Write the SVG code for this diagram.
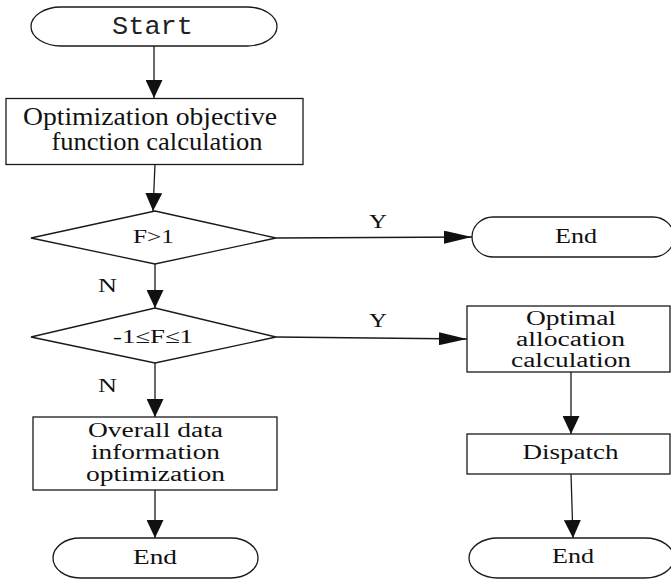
<svg xmlns="http://www.w3.org/2000/svg" width="671" height="579" viewBox="0 0 671 579">
  <style>
    .shape { fill: #ffffff; stroke: #1a1a1a; stroke-width: 1.3; }
    .wire { fill: none; stroke: #1a1a1a; stroke-width: 1.3; }
    .t { font-family: "Liberation Serif", "Times New Roman", serif; fill: #111111; text-anchor: middle; }
    .mono { font-family: "Liberation Mono", "Courier New", monospace; fill: #222222; text-anchor: middle; }
    .lbl { font-family: "Liberation Serif", "Times New Roman", serif; fill: #111111; text-anchor: middle; font-size: 19px; }
  </style>
  <defs>
    <marker id="headV" markerUnits="userSpaceOnUse" markerWidth="18" markerHeight="17" refX="18" refY="8.5" orient="auto">
      <path d="M0,0 L18,8.5 L0,17 Z" fill="#111111"/>
    </marker>
    <marker id="headH" markerUnits="userSpaceOnUse" markerWidth="28" markerHeight="13" refX="28" refY="6.5" orient="auto">
      <path d="M0,0 L28,6.5 L0,13 Z" fill="#111111"/>
    </marker>
  </defs>

  <!-- connectors -->
  <g id="connectors">
    <line class="wire" x1="154" y1="46" x2="154" y2="98" marker-end="url(#headV)"/>
    <line class="wire" x1="155" y1="164" x2="153" y2="211" marker-end="url(#headV)"/>
    <line class="wire" x1="276" y1="238" x2="472" y2="237" marker-end="url(#headH)"/>
    <line class="wire" x1="155" y1="264" x2="155" y2="308" marker-end="url(#headV)"/>
    <line class="wire" x1="276" y1="337" x2="467" y2="339" marker-end="url(#headH)"/>
    <line class="wire" x1="155" y1="363" x2="155" y2="417" marker-end="url(#headV)"/>
    <line class="wire" x1="155" y1="490" x2="155" y2="538" marker-end="url(#headV)"/>
    <line class="wire" x1="571" y1="372" x2="571" y2="434" marker-end="url(#headV)"/>
    <line class="wire" x1="571" y1="474" x2="573" y2="538" marker-end="url(#headV)"/>
    <text class="lbl" x="378" y="228" textLength="18" lengthAdjust="spacingAndGlyphs">Y</text>
    <text class="lbl" x="378" y="327" textLength="18" lengthAdjust="spacingAndGlyphs">Y</text>
    <text class="lbl" x="107.5" y="292" textLength="19" lengthAdjust="spacingAndGlyphs">N</text>
    <text class="lbl" x="107.5" y="392" textLength="19" lengthAdjust="spacingAndGlyphs">N</text>
  </g>

  <!-- start terminal -->
  <g id="start">
    <path class="shape" d="M61,7 H247 A30,19.5 0 0 1 247,46 H61 A30,19.5 0 0 1 61,7 Z"/>
    <text class="mono" x="152.5" y="34" font-size="25" textLength="81" lengthAdjust="spacingAndGlyphs">Start</text>
  </g>

  <!-- objective function box -->
  <g id="objective">
    <rect class="shape" x="6" y="98.5" width="297" height="66"/>
    <text class="t" x="150" y="125" font-size="25" textLength="254" lengthAdjust="spacingAndGlyphs">Optimization objective</text>
    <text class="t" x="157" y="150" font-size="25" textLength="211" lengthAdjust="spacingAndGlyphs">function calculation</text>
  </g>

  <!-- decision F>1 -->
  <g id="decision1">
    <polygon class="shape" points="155,211 276,238 155,264 31,238"/>
    <text class="t" x="153.5" y="243" font-size="19" textLength="41" lengthAdjust="spacingAndGlyphs">F&gt;1</text>
  </g>

  <!-- end (upper right) -->
  <g id="end1">
    <path class="shape" d="M493,217 H653 A21,20 0 0 1 653,257 H493 A21,20 0 0 1 493,217 Z"/>
    <text class="t" x="576" y="243" font-size="20" textLength="42" lengthAdjust="spacingAndGlyphs">End</text>
  </g>

  <!-- decision -1<=F<=1 -->
  <g id="decision2">
    <polygon class="shape" points="155,308 276,337 155,363 31,337"/>
    <text class="t" x="153" y="343" font-size="19" textLength="80" lengthAdjust="spacingAndGlyphs">-1≤F≤1</text>
  </g>

  <!-- optimal allocation box -->
  <g id="allocation">
    <rect class="shape" x="467" y="306" width="203" height="66"/>
    <text class="t" x="571" y="325" font-size="20" textLength="90" lengthAdjust="spacingAndGlyphs">Optimal</text>
    <text class="t" x="570.5" y="346" font-size="20" textLength="109" lengthAdjust="spacingAndGlyphs">allocation</text>
    <text class="t" x="571" y="367" font-size="20" textLength="120" lengthAdjust="spacingAndGlyphs">calculation</text>
  </g>

  <!-- dispatch box -->
  <g id="dispatch">
    <rect class="shape" x="467" y="434" width="203" height="40"/>
    <text class="t" x="570.5" y="459" font-size="21" textLength="96" lengthAdjust="spacingAndGlyphs">Dispatch</text>
  </g>

  <!-- overall optimization box -->
  <g id="overall">
    <rect class="shape" x="33" y="417" width="244" height="73"/>
    <text class="t" x="155.5" y="437" font-size="20" textLength="135" lengthAdjust="spacingAndGlyphs">Overall data</text>
    <text class="t" x="155.5" y="459" font-size="20" textLength="129" lengthAdjust="spacingAndGlyphs">information</text>
    <text class="t" x="155.5" y="481" font-size="20" textLength="139" lengthAdjust="spacingAndGlyphs">optimization</text>
  </g>

  <!-- end (bottom left) -->
  <g id="end2">
    <path class="shape" d="M80,538 H231 A27,20 0 0 1 231,578 H80 A27,20 0 0 1 80,538 Z"/>
    <text class="t" x="155" y="564" font-size="20" textLength="44" lengthAdjust="spacingAndGlyphs">End</text>
  </g>

  <!-- end (bottom right) -->
  <g id="end3">
    <path class="shape" d="M498,538 H645 A29,20 0 0 1 645,578 H498 A29,20 0 0 1 498,538 Z"/>
    <text class="t" x="573" y="563" font-size="20" textLength="42" lengthAdjust="spacingAndGlyphs">End</text>
  </g>
</svg>
